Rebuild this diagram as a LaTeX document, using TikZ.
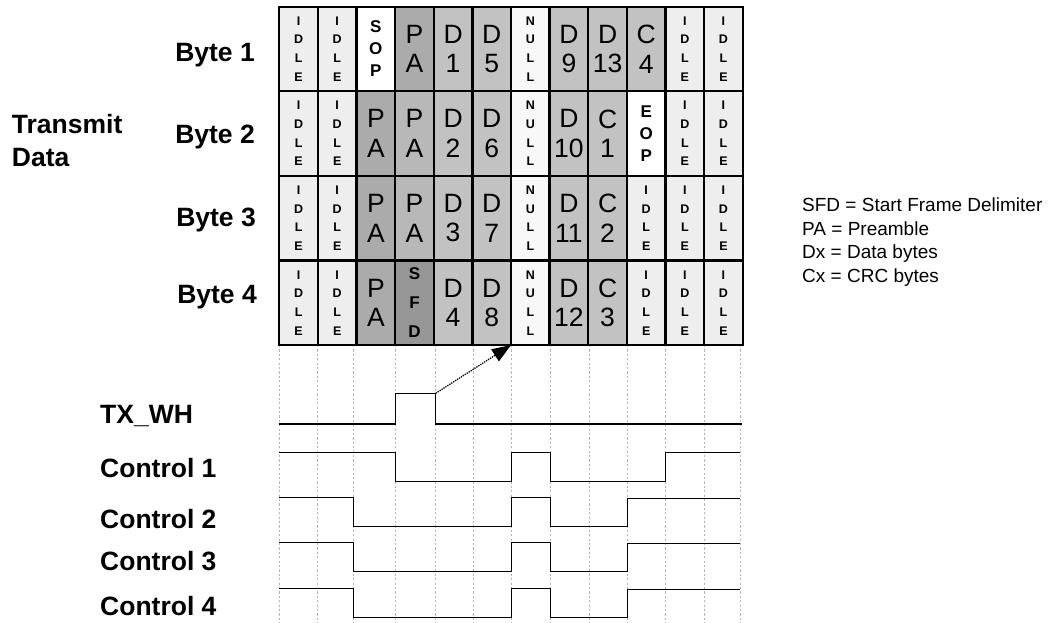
\documentclass[tikz,border=0pt]{standalone}
\usepackage{fontspec}
\setmainfont{Liberation Sans}
\usetikzlibrary{arrows.meta}

\definecolor{idlegray}{HTML}{EEEEEE}
\definecolor{nullgray}{HTML}{F8F8F8}
\definecolor{padark}{HTML}{ABABAB}
\definecolor{palight}{HTML}{B8B8B8}
\definecolor{datagray}{HTML}{C2C2C2}
\definecolor{sfdgray}{HTML}{969696}
\definecolor{gridgray}{HTML}{B4B4B4}

% one cell of the byte lane table: row, column, style, text
\newcommand\lanecell[4]{%
  \node[#3] (r#1c#2) at ({279.3+38.62*(#2-1)},{6.7+84.6*(#1-1)}) {#4};}
\newcommand\vidle{I\\D\\L\\E}
\newcommand\vnull{N\\U\\L\\L}

\tikzset{
  cellbase/.style={draw, line width=2.3pt, anchor=north west,
    minimum width=38.62pt, minimum height=84.6pt,
    inner sep=0pt, outer sep=0pt, align=center},
  bigcell/.style={cellbase, font=\fontsize{26.5}{29.5}\selectfont},
  idlecell/.style={cellbase, fill=idlegray, font=\fontsize{12.5}{18.7}\selectfont\bfseries},
  nullcell/.style={cellbase, fill=nullgray, font=\fontsize{12.5}{18.7}\selectfont\bfseries},
  markcell/.style={cellbase, fill=white, font=\fontsize{17}{22}\selectfont\bfseries},
  sfdcell/.style={cellbase, fill=sfdgray, font=\fontsize{17}{29}\selectfont\bfseries},
  padcell/.style={bigcell, fill=padark},
  palcell/.style={bigcell, fill=palight},
  datacell/.style={bigcell, fill=datagray},
  rowlabel/.style={inner sep=0pt, font=\fontsize{26.5}{30}\selectfont\bfseries},
  legend/.style={inner sep=0pt, anchor=base west, font=\fontsize{19}{22}\selectfont},
  wave/.style={line width=1.3pt, line join=miter},
  tick/.style={gridgray, line width=0.9pt, dash pattern=on 2.2pt off 2.2pt},
}

\begin{document}
\begin{tikzpicture}[x=1pt, y=-1pt]
\fill[white] (0,0) rectangle (1052,623);
\useasboundingbox (0,0) rectangle (1052,623);

% dotted time marks below the table
\foreach \t in {279.3,317.3,353.3,395.3,435.7,473.3,511.7,550.7,589,627.3,665.7,704.3,740}
  \draw[tick] (\t,345) -- (\t,623);

% byte lanes
\lanecell{1}{1}{idlecell}{\vidle}
\lanecell{1}{2}{idlecell}{\vidle}
\lanecell{1}{3}{markcell}{S\\O\\P}
\lanecell{1}{4}{padcell}{P\\A}
\lanecell{1}{5}{datacell}{D\\1}
\lanecell{1}{6}{datacell}{D\\5}
\lanecell{1}{7}{nullcell}{\vnull}
\lanecell{1}{8}{datacell}{D\\9}
\lanecell{1}{9}{datacell}{D\\13}
\lanecell{1}{10}{datacell}{C\\4}
\lanecell{1}{11}{idlecell}{\vidle}
\lanecell{1}{12}{idlecell}{\vidle}

\lanecell{2}{1}{idlecell}{\vidle}
\lanecell{2}{2}{idlecell}{\vidle}
\lanecell{2}{3}{padcell}{P\\A}
\lanecell{2}{4}{palcell}{P\\A}
\lanecell{2}{5}{datacell}{D\\2}
\lanecell{2}{6}{datacell}{D\\6}
\lanecell{2}{7}{nullcell}{\vnull}
\lanecell{2}{8}{datacell}{D\\10}
\lanecell{2}{9}{datacell}{C\\1}
\lanecell{2}{10}{markcell}{E\\O\\P}
\lanecell{2}{11}{idlecell}{\vidle}
\lanecell{2}{12}{idlecell}{\vidle}

\lanecell{3}{1}{idlecell}{\vidle}
\lanecell{3}{2}{idlecell}{\vidle}
\lanecell{3}{3}{padcell}{P\\A}
\lanecell{3}{4}{palcell}{P\\A}
\lanecell{3}{5}{datacell}{D\\3}
\lanecell{3}{6}{datacell}{D\\7}
\lanecell{3}{7}{nullcell}{\vnull}
\lanecell{3}{8}{datacell}{D\\11}
\lanecell{3}{9}{datacell}{C\\2}
\lanecell{3}{10}{idlecell}{\vidle}
\lanecell{3}{11}{idlecell}{\vidle}
\lanecell{3}{12}{idlecell}{\vidle}

\lanecell{4}{1}{idlecell}{\vidle}
\lanecell{4}{2}{idlecell}{\vidle}
\lanecell{4}{3}{padcell}{P\\A}
\lanecell{4}{4}{sfdcell}{S\\F\\D}
\lanecell{4}{5}{datacell}{D\\4}
\lanecell{4}{6}{datacell}{D\\8}
\lanecell{4}{7}{nullcell}{\vnull}
\lanecell{4}{8}{datacell}{D\\12}
\lanecell{4}{9}{datacell}{C\\3}
\lanecell{4}{10}{idlecell}{\vidle}
\lanecell{4}{11}{idlecell}{\vidle}
\lanecell{4}{12}{idlecell}{\vidle}

% lane labels
\node[rowlabel, anchor=base east] (byte1) at (255,62) {Byte 1};
\node[rowlabel, anchor=base east] (byte2) at (255,143.3) {Byte 2};
\node[rowlabel, anchor=base east] (byte3) at (256,226.7) {Byte 3};
\node[rowlabel, anchor=base east] (byte4) at (257,303.3) {Byte 4};
\node[rowlabel, anchor=base west] (transmit) at (11.7,133.3) {Transmit};
\node[rowlabel, anchor=base west] (data) at (11.7,166.7) {Data};

% signal labels
\node[rowlabel, anchor=base west] (txwh) at (100,423.3) {TX\_WH};
\node[rowlabel, anchor=base west] (ctl1) at (100,477.3) {Control 1};
\node[rowlabel, anchor=base west] (ctl2) at (100,528.3) {Control 2};
\node[rowlabel, anchor=base west] (ctl3) at (100,570) {Control 3};
\node[rowlabel, anchor=base west] (ctl4) at (100,615) {Control 4};

% waveforms
\draw[wave] (279.3,424) -- (395.3,424) -- (395.3,393.3) -- (435.7,393.3)
  -- (435.7,424) -- (741.5,424);
\coordinate (txfall) at (435.7,393.3);
\draw[wave] (279.3,452.7) -- (395.3,452.7) -- (395.3,481.7) -- (511.7,481.7)
  -- (511.7,452.7) -- (550.7,452.7) -- (550.7,481.7) -- (665.7,481.7)
  -- (665.7,452.7) -- (740,452.7);
\draw[wave] (279.3,497.7) -- (353.3,497.7) -- (353.3,526.7) -- (511.7,526.7)
  -- (511.7,497.7) -- (550.7,497.7) -- (550.7,526.7) -- (627.3,526.7)
  -- (627.3,498.7) -- (740,498.7);
\draw[wave] (279.3,542.7) -- (353.3,542.7) -- (353.3,571.7) -- (511.7,571.7)
  -- (511.7,542.7) -- (550.7,542.7) -- (550.7,571.7) -- (627.3,571.7)
  -- (627.3,543.7) -- (740,543.7);
\draw[wave] (279.3,588.3) -- (353.3,588.3) -- (353.3,617.7) -- (511.7,617.7)
  -- (511.7,588.3) -- (550.7,588.3) -- (550.7,617.7) -- (627.3,617.7)
  -- (627.3,589.3) -- (740,589.3);

% TX_WH strobe points at the lane word it latches
\draw[line width=1.3pt, densely dotted, -{Triangle[length=19pt,width=14pt]}]
  (txfall) -- (r4c6.south east);

% legend
\node[legend] (lg1) at (802,211) {SFD = Start Frame Delimiter};
\node[legend] (lg2) at (802,235) {PA = Preamble};
\node[legend] (lg3) at (802,258.5) {Dx = Data bytes};
\node[legend] (lg4) at (802,282) {Cx = CRC bytes};
\end{tikzpicture}
\end{document}
